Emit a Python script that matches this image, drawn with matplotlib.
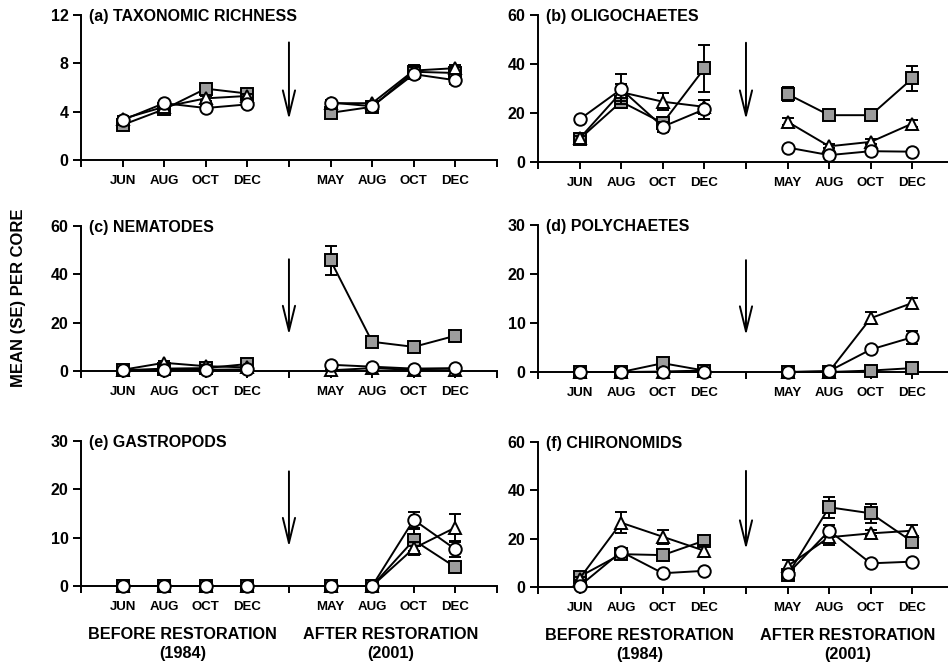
import numpy as np
import matplotlib
matplotlib.use('Agg')
import matplotlib.pyplot as plt

plt.rcParams['font.family'] = ['Liberation Sans', 'DejaVu Sans']
plt.rcParams['font.weight'] = 'bold'

# sampling dates: 4 before restoration (1984), 4 after (2001)
tick_pos = list(range(-1, 10))
tick_lab = ['', 'JUN', 'AUG', 'OCT', 'DEC', '', 'MAY', 'AUG', 'OCT', 'DEC', '']
xpos = np.array([0, 1, 2, 3, 5, 6, 7, 8])

titles = ['(a) TAXONOMIC RICHNESS', '(b) OLIGOCHAETES', '(c) NEMATODES',
          '(d) POLYCHAETES', '(e) GASTROPODS', '(f) CHIRONOMIDS']
ymax = [12, 60, 60, 30, 30, 60]
ystep = [4, 20, 20, 10, 10, 20]

# square (grey), triangle (open), circle (open) series, mean and SE
sq = [[2.9, 4.2, 5.9, 5.5, 3.9, 4.4, 7.3, 7.2],
      [9.4, 24.6, 15.9, 38.2, 27.7, 19.1, 19.1, 34.1],
      [0.3, 1.0, 1.2, 2.9, 45.8, 12.1, 10.0, 14.6],
      [0.0, 0.0, 1.8, 0.3, 0.0, 0.0, 0.3, 0.8],
      [0.0, 0.0, 0.0, 0.0, 0.0, 0.0, 9.5, 3.9],
      [4.3, 13.6, 13.2, 19.2, 5.0, 33.0, 30.5, 18.7]]
sq_se = [[0.2, 0.2, 0.3, 0.2, 0.2, 0.2, 0.6, 0.3],
         [1.0, 2.5, 2.0, 9.5, 3.0, 1.0, 1.2, 5.0],
         [0.2, 0.3, 0.3, 0.5, 6.0, 1.0, 1.0, 2.0],
         [0.0, 0.0, 0.3, 0.1, 0.0, 0.0, 0.1, 0.2],
         [0.0, 0.0, 0.0, 0.0, 0.0, 0.0, 2.3, 0.6],
         [0.5, 1.0, 1.2, 1.8, 1.0, 4.4, 3.9, 1.5]]
tri = [[3.4, 4.4, 5.1, 5.3, 4.7, 4.7, 7.4, 7.6],
       [9.6, 28.5, 24.6, 22.5, 16.4, 6.4, 8.2, 15.7],
       [0.5, 3.4, 2.0, 1.5, 0.3, 1.2, 0.5, 0.3],
       [0.0, 0.0, 0.1, 0.3, 0.0, 0.1, 11.0, 14.1],
       [0.0, 0.0, 0.0, 0.0, 0.0, 0.0, 7.8, 12.1],
       [3.5, 26.6, 20.8, 15.0, 8.7, 20.6, 22.2, 23.3]]
tri_se = [[0.2, 0.2, 0.2, 0.2, 0.2, 0.2, 0.3, 0.3],
          [1.0, 3.5, 3.4, 3.0, 1.5, 0.8, 1.0, 1.5],
          [0.2, 0.6, 0.4, 0.3, 0.1, 0.2, 0.1, 0.1],
          [0.0, 0.0, 0.0, 0.1, 0.0, 0.0, 1.2, 1.0],
          [0.0, 0.0, 0.0, 0.0, 0.0, 0.0, 1.4, 2.8],
          [0.5, 4.4, 2.8, 2.5, 2.5, 3.2, 1.2, 2.4]]
cir = [[3.3, 4.7, 4.3, 4.6, 4.75, 4.45, 7.1, 6.6],
       [17.4, 29.7, 14.4, 21.5, 5.9, 2.8, 4.4, 4.2],
       [0.3, 0.5, 0.5, 0.7, 2.6, 1.8, 1.0, 1.2],
       [0.0, 0.0, 0.0, 0.1, 0.0, 0.2, 4.6, 7.1],
       [0.0, 0.0, 0.0, 0.0, 0.0, 0.0, 13.7, 7.6],
       [0.4, 14.6, 5.7, 6.7, 5.4, 23.3, 9.8, 10.5]]
cir_se = [[0.2, 0.2, 0.2, 0.2, 0.2, 0.2, 0.3, 0.3],
          [1.0, 6.2, 2.0, 4.0, 0.8, 0.5, 0.6, 0.6],
          [0.2, 0.2, 0.2, 0.2, 0.2, 0.2, 0.2, 0.2],
          [0.0, 0.0, 0.0, 0.0, 0.0, 0.1, 0.5, 1.3],
          [0.0, 0.0, 0.0, 0.0, 0.0, 0.0, 1.7, 1.5],
          [0.2, 1.0, 0.6, 0.6, 0.6, 2.4, 0.8, 0.8]]

arrow_top = [0.83, 0.83, 0.79, 0.78, 0.81, 0.82]
arrow_bot = [0.26, 0.27, 0.23, 0.23, 0.25, 0.24]

# axes boxes in figure fraction (left, bottom, width, height)
boxes = [(0.0854, 0.7598, 0.4388, 0.2177), (0.5675, 0.7568, 0.4388, 0.2207),
         (0.0854, 0.4429, 0.4388, 0.2177), (0.5675, 0.4414, 0.4388, 0.2207),
         (0.0854, 0.1201, 0.4388, 0.2177), (0.5675, 0.1186, 0.4388, 0.2177)]

fig = plt.figure(figsize=(9.48, 6.66), dpi=100)
lw = 1.4

for i in range(6):
    ax = fig.add_axes(boxes[i])
    series = [(sq[i], sq_se[i], 's', '#9c9c9c'),
              (tri[i], tri_se[i], '^', 'white'),
              (cir[i], cir_se[i], 'o', 'white')]
    z = 3
    for y, se, mk, fc in series:
        y = np.array(y)
        se = np.array(se)
        for seg in (slice(0, 4), slice(4, 8)):
            ax.errorbar(xpos[seg], y[seg], yerr=se[seg], fmt='none', ecolor='black',
                        elinewidth=lw, capsize=4, capthick=lw, zorder=z, clip_on=False)
            ax.plot(xpos[seg], y[seg], '-', marker=mk, color='black', mfc=fc, mec='black',
                    ms=9 if mk != 's' else 8.5, mew=lw, lw=lw, zorder=z + 1, clip_on=False)
        z += 2

    ax.annotate('', xy=(4, arrow_bot[i]), xytext=(4, arrow_top[i]),
                xycoords=('data', 'axes fraction'),
                arrowprops=dict(arrowstyle='->,head_length=0.9,head_width=0.22',
                                mutation_scale=20, lw=lw, color='black'))

    ax.set_xlim(-1, 9)
    ax.set_ylim(0, ymax[i])
    ax.set_yticks(np.arange(0, ymax[i] + 1, ystep[i]))
    ax.set_xticks(tick_pos)
    ax.set_xticklabels(tick_lab)
    for s in ['top', 'right']:
        ax.spines[s].set_visible(False)
    for s in ['left', 'bottom']:
        ax.spines[s].set_linewidth(lw)
    ax.tick_params(axis='x', direction='out', length=5, width=lw, labelsize=9.5, pad=6)
    ax.tick_params(axis='y', direction='out', length=6, width=lw, labelsize=11.5, pad=3)
    for t in ax.get_xticklabels() + ax.get_yticklabels():
        t.set_fontweight('bold')
    ax.text(0.02, 0.99, titles[i], transform=ax.transAxes, fontsize=11.5,
            fontweight='bold', va='center', ha='left')

    if i >= 4:
        ax.text(1.45, -0.335, 'BEFORE RESTORATION', transform=ax.get_xaxis_transform(),
                ha='center', va='center', fontsize=11.7, fontweight='bold')
        ax.text(1.45, -0.465, '(1984)', transform=ax.get_xaxis_transform(),
                ha='center', va='center', fontsize=11.7, fontweight='bold')
        ax.text(6.45, -0.335, 'AFTER RESTORATION', transform=ax.get_xaxis_transform(),
                ha='center', va='center', fontsize=11.7, fontweight='bold')
        ax.text(6.45, -0.465, '(2001)', transform=ax.get_xaxis_transform(),
                ha='center', va='center', fontsize=11.7, fontweight='bold')

fig.text(0.019, 0.553, 'MEAN (SE) PER CORE', rotation=90, ha='center', va='center',
         fontsize=12, fontweight='bold')

fig.savefig('out.png', dpi=100)
